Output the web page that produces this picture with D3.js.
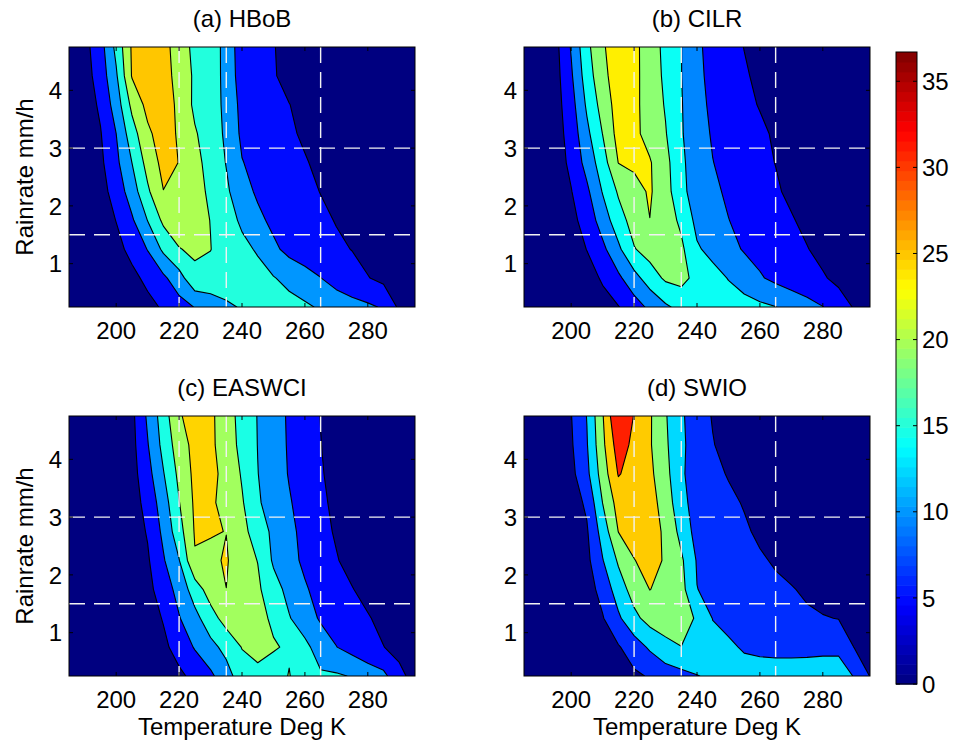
<!DOCTYPE html>
<html><head><meta charset="utf-8">
<script src="https://cdn.jsdelivr.net/npm/d3@7"></script>
<style>
body{margin:0;background:#fff}
svg{display:block}
text{font-family:"Liberation Sans",Arial,Helvetica,sans-serif;fill:#000}
</style>
</head><body>
<svg id="chart" width="956" height="744"></svg>
<script>
// ---------- data ----------
const temps = [185,190,195,200,205,210,215,220,225,230,235,240,245,250,255,260,265,270,275,280,285,290,295];
const rainrates = [4.75,4.25,3.75,3.25,2.75,2.25,1.75,1.25,0.75,0.25];
const xTicks = [200,220,240,260,280];
const yTicks = [1,2,3,4];
const cbTicks = [0,5,10,15,20,25,30,35];
const cbMax = 36.7;
const panelColorMax = [36.7, 39, 37.5, 35.5];
const refTemps = [220,235,265];
const refRains = [1.5,3];
const titles = ["(a) HBoB","(b) CILR","(c) EASWCI","(d) SWIO"];
const levelsHBoB = [5,10,15,20,25];
const levelsCILR = [5,10,15,20,25];
const levelsEASWCI = [5,10,15,20,25];
const levelsSWIO = [6,12,18,24,30];

// rows: rainrate 4.75 -> 0.25 ; columns: temps 185 -> 295
const hbob = [
 [0.8,3.5,8.0,16.3,25.6,28.5,27.2,22.0,19.0,17.5,13.5,7.0,6.0,5.2,3.6,2.5,1.8,1.4,1.1,0.9,0.7,0.6,0.5],
 [0.8,3.0,7.2,14.3,25.3,28.0,27.5,22.8,19.3,17.6,13.5,7.5,6.3,5.4,3.5,2.4,1.8,1.4,1.1,0.9,0.7,0.6,0.5],
 [0.7,2.5,5.8,12.3,21.2,26.5,27.8,23.8,19.0,17.4,13.8,8.5,7.2,6.2,5.1,3.6,2.5,1.8,1.3,1.0,0.8,0.6,0.5],
 [0.6,2.2,4.7,10.0,17.8,24.0,27.5,24.3,20.5,17.5,14.2,9.0,7.8,6.8,5.8,4.2,3.0,2.1,1.5,1.1,0.9,0.7,0.5],
 [0.5,1.8,4.0,8.8,15.0,21.8,26.5,24.9,21.5,18.2,14.8,10.2,8.5,7.4,6.4,5.4,3.8,2.6,1.8,1.3,1.0,0.8,0.6],
 [0.5,1.5,3.2,7.0,12.5,19.2,24.9,23.8,21.6,19.2,15.8,12.0,9.2,8.0,7.0,6.0,4.9,3.4,2.3,1.6,1.2,0.9,0.7],
 [0.4,1.2,2.6,5.1,9.3,15.1,21.0,22.5,21.8,19.9,17.0,14.2,11.2,8.8,7.6,6.6,5.8,4.8,3.3,2.2,1.5,1.1,0.8],
 [0.3,1.0,2.0,3.7,6.2,10.2,16.0,19.8,20.8,20.1,17.8,16.2,14.5,11.0,8.6,7.4,6.5,5.7,4.9,3.5,2.3,1.6,1.1],
 [0.2,0.7,1.5,2.5,3.9,6.0,9.0,13.0,18.8,18.5,18.3,17.5,16.6,15.3,13.5,11.8,10.1,8.0,6.5,5.2,3.8,2.6,1.7],
 [0.1,0.4,0.9,1.6,2.5,3.8,5.5,8.0,10.2,12.0,14.0,15.5,16.5,17.0,16.8,15.8,14.4,13.0,11.8,10.8,9.5,4.1,2.5]
];
const cilr = [
 [0.5,1.5,3.5,10.4,18.7,24.4,27.8,26.3,22.5,18.7,15.1,10.8,8.5,6.8,4.9,3.3,2.2,1.5,1.1,0.8,0.6,0.5,0.4],
 [0.5,1.4,3.2,9.3,17.5,23.6,27.6,26.2,22.8,19.0,15.1,11.0,8.8,7.2,5.6,3.9,2.6,1.7,1.2,0.9,0.7,0.5,0.4],
 [0.5,1.3,3.0,8.0,15.8,22.0,27.2,26.1,23.0,19.6,15.3,11.6,9.0,7.6,6.3,4.7,3.2,2.1,1.4,1.0,0.7,0.5,0.4],
 [0.4,1.2,2.8,7.0,13.8,20.1,26.8,26.1,23.3,20.3,15.4,12.2,9.5,8.2,7.1,6.0,4.3,2.9,1.9,1.3,0.9,0.6,0.5],
 [0.4,1.1,2.6,6.1,11.8,17.7,25.1,25.8,25.4,21.6,15.8,12.8,10.1,8.6,7.4,6.2,4.9,3.4,2.2,1.5,1.0,0.7,0.5],
 [0.3,0.9,2.2,4.8,9.0,15.3,20.6,23.5,25.5,22.2,16.0,13.2,11.0,9.2,7.9,6.7,5.6,4.0,2.7,1.8,1.2,0.8,0.6],
 [0.3,0.8,1.8,3.6,7.0,12.3,17.9,22.0,24.95,22.5,19.0,13.6,12.0,10.1,8.6,7.4,6.3,5.4,3.8,2.5,1.6,1.1,0.7],
 [0.2,0.6,1.4,2.8,5.1,8.8,14.0,19.7,22.0,22.4,21.0,15.6,13.5,11.5,9.6,8.4,7.3,6.3,5.2,3.6,2.4,1.6,1.0],
 [0.2,0.5,1.1,2.0,3.3,5.5,9.0,13.2,17.5,20.8,21.5,18.5,16.8,14.8,12.8,10.5,8.8,7.5,6.5,5.5,3.8,2.5,1.6],
 [0.1,0.3,0.7,1.3,2.2,3.5,4.8,7.8,11.0,14.2,16.5,17.2,17.5,17.3,16.8,16.0,15.1,13.5,11.8,10.1,7.5,4.6,2.8]
];
const easwci = [
 [0.2,0.5,1.0,2.0,3.8,10.8,17.5,24.5,27.0,26.0,22.2,18.3,14.8,12.0,9.4,7.3,4.9,3.2,2.2,1.5,1.1,0.8,0.6],
 [0.2,0.5,1.0,1.9,3.5,9.7,16.5,22.6,26.5,26.0,22.6,18.6,14.9,12.2,9.5,7.4,5.1,3.3,2.3,1.6,1.1,0.8,0.6],
 [0.2,0.4,0.9,1.7,3.2,8.2,14.7,21.2,26.2,26.1,23.8,19.5,15.1,12.4,9.7,7.6,5.4,3.5,2.4,1.6,1.1,0.8,0.6],
 [0.2,0.4,0.8,1.5,2.9,6.6,12.6,19.8,25.8,25.5,24.0,20.5,15.6,12.8,10.4,8.1,6.0,3.8,2.6,1.7,1.2,0.9,0.6],
 [0.2,0.4,0.7,1.3,2.5,5.4,11.1,18.0,25.4,25.3,24.93,21.6,17.5,14.0,11.2,8.6,6.4,4.5,3.0,2.0,1.3,0.9,0.7],
 [0.1,0.3,0.6,1.1,2.1,4.4,9.5,14.8,24.6,24.0,25.5,21.8,19.9,14.3,11.5,9.1,7.0,5.3,3.5,2.3,1.5,1.0,0.7],
 [0.1,0.3,0.5,0.9,1.8,3.6,7.4,11.7,17.5,22.3,24.97,22.8,20.8,17.0,13.5,10.5,8.4,6.8,5.2,3.4,2.2,1.4,0.9],
 [0.1,0.2,0.4,0.8,1.5,2.9,5.3,9.7,13.4,18.0,22.0,23.0,21.8,19.0,15.3,12.4,9.4,8.0,6.8,5.4,3.6,2.3,1.5],
 [0.1,0.2,0.3,0.6,1.2,2.3,4.0,6.8,10.4,13.5,16.5,20.2,22.0,20.53,19.2,16.2,12.8,10.1,8.2,6.7,5.1,3.3,2.0],
 [0.0,0.1,0.2,0.4,0.8,1.5,2.6,4.1,6.2,9.0,13.0,17.7,18.3,17.2,20.3,16.0,15.6,15.6,14.7,12.6,11.2,6.5,3.0]
];
const swio = [
 [0.3,0.8,2.0,5.8,12.2,23.5,36.7,29.7,24.7,18.5,12.8,9.0,5.6,3.5,2.3,1.6,1.2,0.9,0.7,0.6,0.5,0.4,0.3],
 [0.3,0.8,1.9,5.3,11.6,22.6,33.0,28.5,24.6,19.0,13.0,9.5,6.3,4.0,2.6,1.8,1.3,1.0,0.8,0.6,0.5,0.4,0.3],
 [0.3,0.7,1.7,4.4,10.5,20.8,30.4,27.8,25.3,20.0,12.6,10.0,7.5,5.6,3.7,2.5,1.7,1.2,0.9,0.7,0.6,0.5,0.4],
 [0.3,0.6,1.4,3.3,7.0,18.1,26.4,27.0,25.8,22.0,13.0,10.6,8.8,7.2,5.6,3.8,2.5,1.7,1.2,0.9,0.7,0.5,0.4],
 [0.2,0.5,1.2,2.8,5.4,14.5,24.1,26.5,26.0,23.2,16.0,9.8,9.5,8.2,6.8,5.0,3.3,2.2,1.5,1.1,0.8,0.6,0.4],
 [0.2,0.5,1.0,2.3,4.5,11.7,18.8,23.8,26.0,23.4,19.0,11.5,10.0,8.9,7.8,6.7,5.4,3.8,2.6,1.8,1.2,0.8,0.5],
 [0.2,0.4,0.9,1.9,3.5,8.0,15.0,20.5,24.1,22.5,20.0,12.1,10.6,9.6,8.7,7.9,7.1,6.4,5.0,3.4,2.2,1.4,0.9],
 [0.1,0.3,0.7,1.5,2.9,5.6,11.0,16.5,20.2,20.0,19.5,17.6,11.8,10.6,9.7,9.0,8.3,7.6,7.0,6.4,5.8,4.0,2.5],
 [0.1,0.2,0.5,1.0,2.0,3.5,5.5,9.0,12.9,16.9,17.95,16.5,14.5,12.8,11.5,11.0,10.8,10.8,10.9,11.1,11.2,5.8,3.5],
 [0.0,0.1,0.3,0.6,1.2,2.1,3.4,5.0,6.5,8.3,10.2,11.8,13.0,13.6,13.9,14.0,14.0,14.0,14.0,14.0,13.8,11.8,5.8]
];

// ---------- layout ----------
const W = 346, H = 260;
const FS = 24;
const panels = [
  {data: hbob,   levels: levelsHBoB,   title: titles[0], cmax: panelColorMax[0], left: 69,  top: 47,  yTitle: true,  xTitle: false},
  {data: cilr,   levels: levelsCILR,   title: titles[1], cmax: panelColorMax[1], left: 524, top: 47,  yTitle: false, xTitle: false},
  {data: easwci, levels: levelsEASWCI, title: titles[2], cmax: panelColorMax[2], left: 69,  top: 416, yTitle: true,  xTitle: true},
  {data: swio,   levels: levelsSWIO,   title: titles[3], cmax: panelColorMax[3], left: 524, top: 416, yTitle: false, xTitle: true}
];

function jet(v) {
  const t = Math.max(0, Math.min(1, v));
  const c = z => Math.round(255 * Math.max(0, Math.min(1, z)));
  return `rgb(${c(Math.min(4*t-1.5, -4*t+4.5))},${c(Math.min(4*t-0.5, -4*t+3.5))},${c(Math.min(4*t+0.5, -4*t+2.5))})`;
}
const colorScale = d3.scaleSequential(t => jet(t)).domain([0, cbMax]);

const svg = d3.select("#chart");
const defs = svg.append("defs");

panels.forEach((p, i) => {
  const x = d3.scaleLinear().domain([temps[0], temps[temps.length-1]]).range([p.left, p.left + W]);
  const y = d3.scaleLinear().domain([rainrates[rainrates.length-1], rainrates[0]]).range([p.top + H, p.top]);
  const pc = d3.scaleSequential(t => jet(t)).domain([0, p.cmax]);
  const nx = temps.length, ny = rainrates.length;
  const dT = temps[1] - temps[0], dR = rainrates[0] - rainrates[1];

  defs.append("clipPath").attr("id", "clip" + i)
    .append("rect").attr("x", p.left).attr("y", p.top).attr("width", W).attr("height", H);

  const g = svg.append("g");
  const plot = g.append("g").attr("clip-path", `url(#clip${i})`);
  plot.append("rect").attr("x", p.left).attr("y", p.top).attr("width", W).attr("height", H)
    .attr("fill", pc(0));

  const proj = d3.geoTransform({
    point(px, py) {
      this.stream.point(x(temps[0] + (px - 0.5) * dT), y(rainrates[0] - (py - 0.5) * dR));
    }
  });
  const path = d3.geoPath(proj);
  const contours = d3.contours().size([nx, ny]).thresholds(p.levels)(p.data.flat());
  plot.selectAll("path.band").data(contours).join("path")
    .attr("class", "band")
    .attr("d", path)
    .attr("fill", d => pc(d.value))
    .attr("stroke", "#000")
    .attr("stroke-width", 1.1)
    .attr("stroke-linejoin", "round");

  // white dashed reference lines
  plot.selectAll("line.vref").data(refTemps).join("line").attr("class", "vref")
    .attr("x1", d => x(d)).attr("x2", d => x(d)).attr("y1", p.top).attr("y2", p.top + H)
    .attr("stroke", "#f2f2f2").attr("stroke-width", 1.4).attr("stroke-dasharray", "16,9");
  plot.selectAll("line.href").data(refRains).join("line").attr("class", "href")
    .attr("y1", d => y(d)).attr("y2", d => y(d)).attr("x1", p.left).attr("x2", p.left + W)
    .attr("stroke", "#f2f2f2").attr("stroke-width", 1.4).attr("stroke-dasharray", "16,9");

  // ticks (inside, all four sides)
  const tl = 4;
  g.selectAll("line.xt").data(xTicks).join("line").attr("class", "xt")
    .attr("x1", d => x(d)).attr("x2", d => x(d)).attr("y1", p.top + H).attr("y2", p.top + H - tl)
    .attr("stroke", "#000");
  g.selectAll("line.xt2").data(xTicks).join("line").attr("class", "xt2")
    .attr("x1", d => x(d)).attr("x2", d => x(d)).attr("y1", p.top).attr("y2", p.top + tl)
    .attr("stroke", "#000");
  g.selectAll("line.yt").data(yTicks).join("line").attr("class", "yt")
    .attr("y1", d => y(d)).attr("y2", d => y(d)).attr("x1", p.left).attr("x2", p.left + tl)
    .attr("stroke", "#000");
  g.selectAll("line.yt2").data(yTicks).join("line").attr("class", "yt2")
    .attr("y1", d => y(d)).attr("y2", d => y(d)).attr("x1", p.left + W).attr("x2", p.left + W - tl)
    .attr("stroke", "#000");

  // frame
  g.append("rect").attr("x", p.left).attr("y", p.top).attr("width", W).attr("height", H)
    .attr("fill", "none").attr("stroke", "#000").attr("stroke-width", 1);

  // tick labels
  g.selectAll("text.xl").data(xTicks).join("text").attr("class", "xl")
    .attr("x", d => x(d)).attr("y", p.top + H + 32)
    .attr("text-anchor", "middle").attr("font-size", FS).text(d => d);
  g.selectAll("text.yl").data(yTicks).join("text").attr("class", "yl")
    .attr("x", p.left - 7).attr("y", d => y(d)).attr("dy", "0.36em")
    .attr("text-anchor", "end").attr("font-size", FS).text(d => d);

  // title
  g.append("text").attr("x", p.left + W / 2).attr("y", p.top - 20)
    .attr("text-anchor", "middle").attr("font-size", FS).text(p.title);

  if (p.xTitle) {
    g.append("text").attr("x", p.left + W / 2).attr("y", p.top + H + 59)
      .attr("text-anchor", "middle").attr("font-size", FS).text("Temperature Deg K");
  }
  if (p.yTitle) {
    g.append("text").attr("transform", `translate(33,${p.top + H / 2}) rotate(-90)`)
      .attr("text-anchor", "middle").attr("font-size", FS).text("Rainrate mm/h");
  }
});

// ---------- colorbar ----------
const cb = {left: 896, top: 52, width: 21, height: 632};
const cy = d3.scaleLinear().domain([0, cbMax]).range([cb.top + cb.height, cb.top]);
const nSteps = 64;
const stepVals = d3.range(nSteps).map(k => k * cbMax / nSteps);
const cbg = svg.append("g");
cbg.selectAll("rect.cs").data(stepVals).join("rect").attr("class", "cs")
  .attr("x", cb.left).attr("width", cb.width)
  .attr("y", d => cy(d + cbMax / nSteps))
  .attr("height", d => cy(d) - cy(d + cbMax / nSteps) + 0.6)
  .attr("fill", d => colorScale(d + cbMax / nSteps / 2));
cbg.selectAll("line.ct1").data(cbTicks).join("line").attr("class", "ct1")
  .attr("x1", cb.left).attr("x2", cb.left + 4).attr("y1", d => cy(d)).attr("y2", d => cy(d)).attr("stroke", "#000");
cbg.selectAll("line.ct2").data(cbTicks).join("line").attr("class", "ct2")
  .attr("x1", cb.left + cb.width).attr("x2", cb.left + cb.width - 4).attr("y1", d => cy(d)).attr("y2", d => cy(d)).attr("stroke", "#000");
cbg.append("rect").attr("x", cb.left).attr("y", cb.top).attr("width", cb.width).attr("height", cb.height)
  .attr("fill", "none").attr("stroke", "#000").attr("stroke-width", 1);
cbg.selectAll("text.cl").data(cbTicks).join("text").attr("class", "cl")
  .attr("x", cb.left + cb.width + 5).attr("y", d => cy(d)).attr("dy", "0.36em")
  .attr("font-size", FS).text(d => d);
</script>
</body></html>
